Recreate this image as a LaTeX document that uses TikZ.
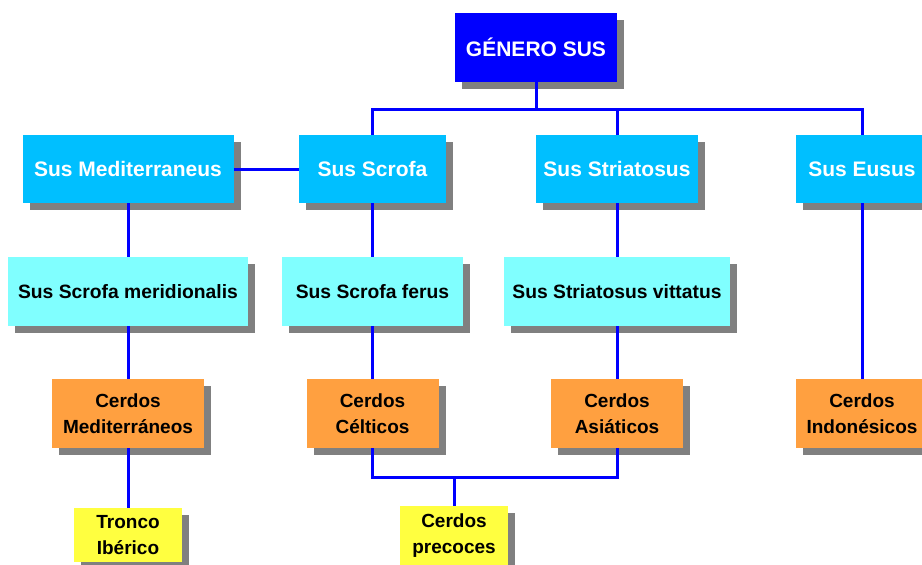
\documentclass[tikz,border=0pt]{standalone}
\usepackage{fontspec}
\setmainfont{Liberation Sans}
\usetikzlibrary{shadows}

\definecolor{azulcielo}{RGB}{0,191,255}
\definecolor{cian}{RGB}{128,255,255}
\definecolor{naranja}{RGB}{255,160,64}
\definecolor{amarillo}{RGB}{255,255,64}

\tikzset{
  caja/.style={inner sep=0pt, align=center,
    drop shadow={shadow xshift=7pt, shadow yshift=-7pt, fill=black!50, opacity=1}},
  generobox/.style={caja, fill=blue, text=white, minimum width=162pt, minimum height=69pt,
    font=\fontsize{21}{24}\selectfont\bfseries},
  especie/.style={caja, fill=azulcielo, text=white, minimum height=68pt,
    font=\fontsize{21}{24}\selectfont\bfseries},
  subespecie/.style={caja, fill=cian, minimum height=69pt,
    font=\fontsize{19.3}{22}\selectfont\bfseries},
  cerdos/.style={caja, fill=naranja, minimum width=132pt, minimum height=69pt,
    font=\fontsize{19}{26}\selectfont\bfseries},
  tronco/.style={caja, fill=amarillo, minimum width=108pt,
    font=\fontsize{19}{26}\selectfont\bfseries},
  linea/.style={draw=blue, line width=3pt}
}

\begin{document}
\begin{tikzpicture}[x=1pt, y=-1pt]
  \clip (0,0) rectangle (922,565);

  % Genero
  \draw (536,47.5) node[generobox] (genero) {GÉNERO SUS};

  % Especies
  \draw (128,169) node[especie, minimum width=211pt] (mediterraneus) {Sus Mediterraneus};
  \draw (372.5,169) node[especie, minimum width=147pt] (scrofa) {Sus Scrofa};
  \draw (617,169) node[especie, minimum width=162pt] (striatosus) {Sus Striatosus};
  \draw (862,169) node[especie, minimum width=132pt] (eusus) {Sus Eusus};

  % Subespecies
  \draw (128,291.5) node[subespecie, minimum width=240pt] (meridionalis) {Sus Scrofa meridionalis};
  \draw (372.5,291.5) node[subespecie, minimum width=181pt] (ferus) {Sus Scrofa ferus};
  \draw (617,291.5) node[subespecie, minimum width=226pt] (vittatus) {Sus Striatosus vittatus};

  % Cerdos
  \draw (128,413.5) node[cerdos, minimum width=152pt] (mediterraneos) {Cerdos\\Mediterráneos};
  \draw (372.5,413.5) node[cerdos] (celticos) {Cerdos\\Célticos};
  \draw (617,413.5) node[cerdos] (asiaticos) {Cerdos\\Asiáticos};
  \draw (862,413.5) node[cerdos] (indonesicos) {Cerdos\\Indonésicos};

  % Troncos
  \draw (128,535) node[tronco, minimum height=54pt] (iberico) {Tronco\\Ibérico};
  \draw (454,536) node[tronco, minimum height=60pt] (precoces) {Cerdos\\precoces};

  % Lineas
  \coordinate (bus) at (536,109);
  \coordinate (cruce) at (454,477);
  \draw[linea] (genero) -- (bus);
  \draw[linea] (scrofa.north) |- (bus) -| (eusus.north);
  \draw[linea] (striatosus.north) -- (striatosus.north |- bus);
  \draw[linea] (mediterraneus) -- (scrofa);
  \draw[linea] (mediterraneus) -- (meridionalis);
  \draw[linea] (scrofa) -- (ferus);
  \draw[linea] (striatosus) -- (vittatus);
  \draw[linea] (eusus) -- (indonesicos);
  \draw[linea] (meridionalis) -- (mediterraneos);
  \draw[linea] (ferus) -- (celticos);
  \draw[linea] (vittatus) -- (asiaticos);
  \draw[linea] (mediterraneos) -- (iberico);
  \draw[linea] (celticos.south) |- (cruce) -| (asiaticos.south);
  \draw[linea] (cruce) -- (precoces);
\end{tikzpicture}
\end{document}
